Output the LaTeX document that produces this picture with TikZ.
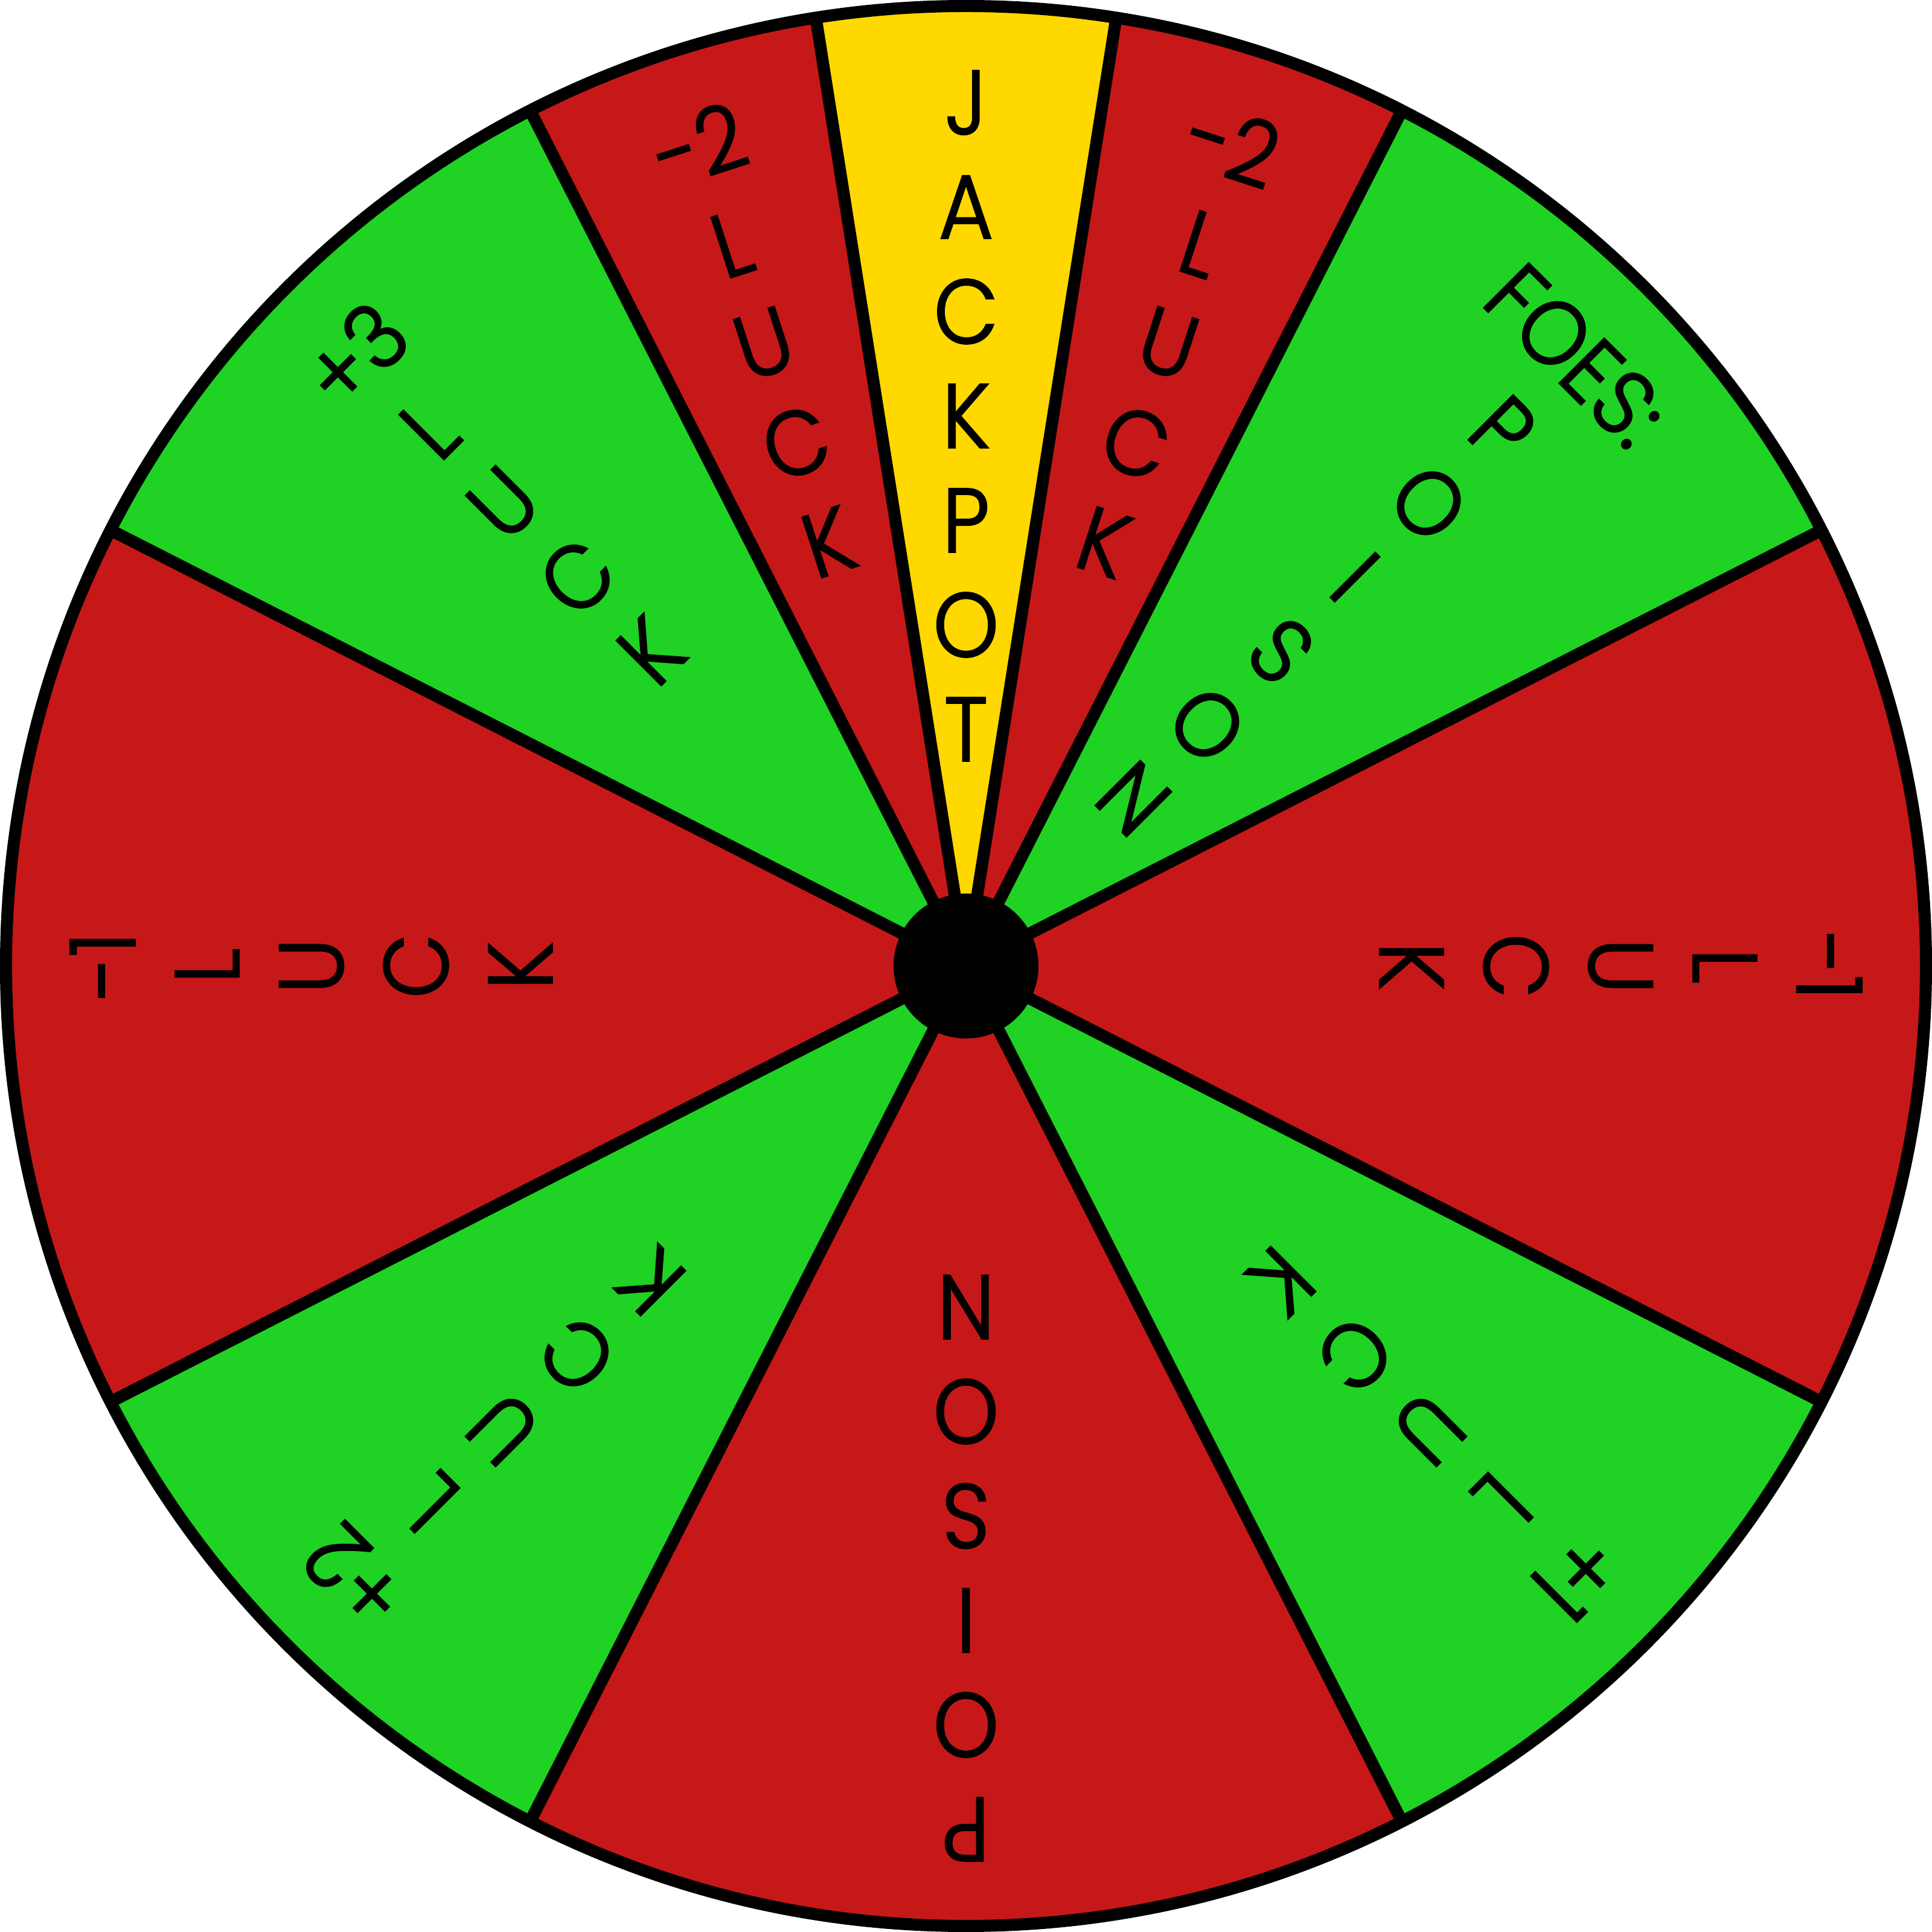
\documentclass[tikz,border=0pt]{standalone}
\usepackage{fontspec}
\usepackage{xcolor}
\setmainfont{Poppins Light}[FakeStretch=0.92, FakeBold=2]
\definecolor{wheelred}{RGB}{198,24,24}
\definecolor{wheelgreen}{RGB}{31,210,35}
\definecolor{wheelyellow}{RGB}{255,216,0}

\begin{document}
\begin{tikzpicture}[
  font=\fontsize{21.3}{24}\selectfont,
  divider/.style={line width=0.1cm, black},
  hub/.style={circle, fill=black, minimum size=1.2cm, inner sep=0pt},
  letter/.style={inner sep=0pt, anchor=center}
]
\def\rim{7.95}
\def\gap{0.865}
\useasboundingbox (-8,-8) rectangle (8,8);
% slices
\foreach \a/\b/\c in {-27/27/wheelred, 27/63/wheelgreen, 63/81/wheelred, 81/99/wheelyellow,
  99/117/wheelred, 117/153/wheelgreen, 153/207/wheelred, 207/243/wheelgreen,
  243/297/wheelred, 297/333/wheelgreen}
  \fill[\c] (0,0) -- (\a:\rim) arc[start angle=\a, end angle=\b, radius=\rim] -- cycle;
\foreach \a in {27,63,81,99,117,153,207,243,297,333}
  \draw[divider] (0,0) -- (\a:\rim);
\draw[divider] (0,0) circle[radius=\rim];
\node[hub] (hub) at (0,0) {};
% labels, outer letter first
\foreach \ang/\words in {0/{-1,L,U,C,K}, 45/{FOES:,P,O,I,S,O,N}, 72/{-2,L,U,C,K},
  90/{J,A,C,K,P,O,T}, 108/{-2,L,U,C,K}, 135/{+3,L,U,C,K}, 180/{-1,L,U,C,K},
  225/{+2,L,U,C,K}, 270/{P,O,I,S,O,N}, 315/{+1,L,U,C,K}} {
  \foreach \w [count=\k] in \words
    \node[letter, rotate=\ang-90] (l\ang-\k) at (\ang:{7.15-(\k-1)*\gap}) {\w};
}
\end{tikzpicture}
\end{document}
